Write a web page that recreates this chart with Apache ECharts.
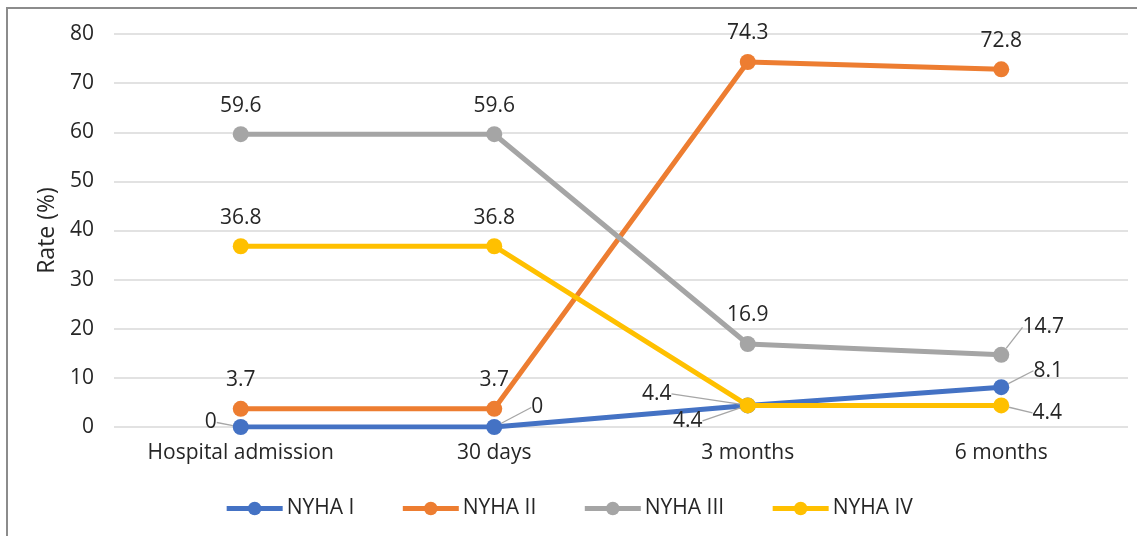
<!DOCTYPE html>
<html>
<head>
<meta charset="utf-8">
<script src="https://cdn.jsdelivr.net/npm/echarts@6/dist/echarts.min.js"></script>
<style>
  html, body { margin: 0; padding: 0; background: #fff; }
  #chart { width: 1137px; height: 536px; }
</style>
</head>
<body>
<div id="chart"></div>
<script>
// Follow-up time points
const categories = ['Hospital admission', '30 days', '3 months', '6 months'];

// NYHA class distribution (%) at each time point
const nyhaI   = [0, 0, 4.4, 8.1];
const nyhaII  = [3.7, 3.7, 74.3, 72.8];
const nyhaIII = [59.6, 59.6, 16.9, 14.7];
const nyhaIV  = [36.8, 36.8, 4.4, 4.4];

const seriesNames = ['NYHA I', 'NYHA II', 'NYHA III', 'NYHA IV'];
const seriesData = [nyhaI, nyhaII, nyhaIII, nyhaIV];
const colors = ['#4472C4', '#ED7D31', '#A5A5A5', '#FFC000'];

// Y axis ticks
const yMin = 0, yMax = 80, yStep = 10;

const FONT = '"Open Sans", "Noto Sans", sans-serif';
const TEXT = '#262626';
const FS = 21;

// Labels moved off their default "above the point" spot, drawn with a guide line
// key "seriesIndex-dataIndex" -> [dx, dy]
const labelShift = {
  '0-0': [-30, 24],
  '0-1': [43, 9],
  '0-2': [-91, 17],
  '0-3': [47, 12],
  '2-3': [42, 1],
  '3-2': [-60, 44],
  '3-3': [46, 36]
};

const chart = echarts.init(document.getElementById('chart'), null, { renderer: 'canvas' });

const series = seriesNames.map((name, s) => ({
  name,
  type: 'line',
  data: seriesData[s].map((v, i) => ({
    value: v,
    labelLine: { show: !!labelShift[s + '-' + i] }
  })),
  symbol: 'circle',
  symbolSize: 16,
  z: 2 + s,
  lineStyle: { width: 5, color: colors[s] },
  itemStyle: { color: colors[s] },
  label: {
    show: true,
    position: 'top',
    distance: 10,
    fontSize: FS,
    fontFamily: FONT,
    color: TEXT
  },
  labelLine: {
    show: false,
    lineStyle: { color: '#A6A6A6', width: 1.3 }
  },
  labelLayout: function (p) {
    const d = labelShift[p.seriesIndex + '-' + p.dataIndex];
    return d ? { dx: d[0], dy: d[1] } : {};
  },
  emphasis: { disabled: true },
  animation: false
}));

chart.setOption({
  animation: false,
  color: colors,
  textStyle: { fontFamily: FONT },
  grid: { left: 114, right: 9, top: 34, bottom: 109, containLabel: false },
  graphic: [{
    type: 'polyline',
    shape: { points: [[7, 536], [7, 8], [1137, 8]] },
    style: { stroke: '#8C8C8C', lineWidth: 2, fill: null },
    silent: true
  }],
  xAxis: {
    type: 'category',
    data: categories,
    boundaryGap: true,
    axisLine: { show: false },
    axisTick: { show: false },
    axisLabel: { fontSize: FS, color: TEXT, margin: 16, fontFamily: FONT }
  },
  yAxis: {
    type: 'value',
    min: yMin,
    max: yMax,
    interval: yStep,
    name: 'Rate (%)',
    nameLocation: 'middle',
    nameGap: 54,
    nameTextStyle: { fontSize: 23, color: TEXT, fontFamily: FONT },
    axisLine: { show: false },
    axisTick: { show: false },
    axisLabel: { fontSize: FS, color: TEXT, margin: 20, fontFamily: FONT },
    splitLine: { lineStyle: { color: '#D9D9D9', width: 1.5 } }
  },
  legend: {
    data: seriesNames,
    bottom: 12,
    left: 'center',
    itemWidth: 56,
    itemHeight: 17,
    itemGap: 46,
    lineStyle: { width: 5 },
    textStyle: { fontSize: FS, color: TEXT, fontFamily: FONT, padding: [0, 0, 0, -1] }
  },
  series
});
</script>
</body>
</html>
